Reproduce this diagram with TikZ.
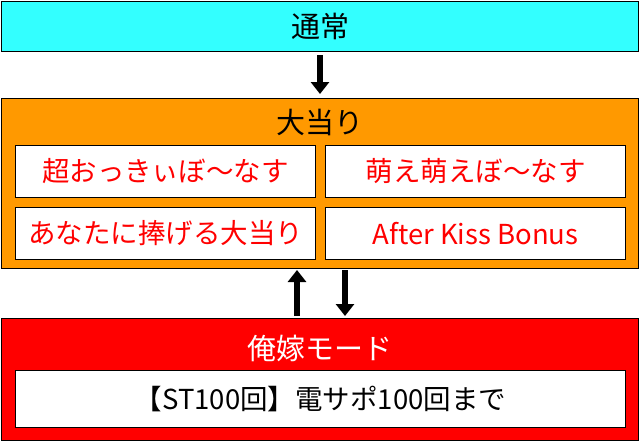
\documentclass[tikz,border=0pt]{standalone}
\usepackage{fontspec}
\newfontfamily\jpfont{Noto Sans CJK JP}
\usetikzlibrary{positioning, arrows.meta}
\tikzset{
	x=1pt, y=-1pt,
	panel/.style= {
		rectangle, draw=black, line width=1.2pt, anchor=north west,
		inner sep=0, minimum width=637pt
	},
	item/.style= {
		rectangle, draw=black, fill=white, line width=1pt, anchor=north west,
		inner sep=0, minimum width=300pt, minimum height=52pt,
		text=red, font=\jpfont\fontsize{27.5}{30}\selectfont
	},
	title/.style= {font=\jpfont\fontsize{29}{32}\selectfont},
	flow/.style= {line width=6pt, -{Triangle[length=12pt, width=18pt]}},
}
\definecolor{cyanbox}{RGB}{51,255,255}
\definecolor{orangebox}{RGB}{255,153,0}
\definecolor{redbox}{RGB}{255,0,0}

\begin{document}
\begin{tikzpicture}
		\useasboundingbox (0,0) rectangle (640,442);
		\fill[white] (0,0) rectangle (640,442);
		
		\node (normal) [panel, fill=cyanbox, minimum height=50pt] at (1,1) {};
		\node [title] at (normal.center) {通常};
		
		\node (bigwin) [panel, fill=orangebox, minimum height=170pt] at (1,98) {};
		\node [title] at (320,122) {大当り};
		\node (super) [item] at (15,145) {超おっきぃぼ〜なす};
		\node (moe) [item] at (325,145) {萌え萌えぼ〜なす};
		\node (gift) [item] at (15,207) {あなたに捧げる大当り};
		\node (kiss) [item] at (325,207) {After Kiss Bonus};
		
		\node (mode) [panel, fill=redbox, minimum height=122pt] at (1,318) {};
		\node [title, text=white] at (320,348) {俺嫁モード};
		\node (st) [item, minimum width=610pt, minimum height=57pt, text=black] at (15,370) {【ST100回】電サポ100回まで};
		
		\coordinate (downA) at (320,55);
		\coordinate (downB) at (320,94);
		\coordinate (upA) at (297,316);
		\coordinate (upB) at (297,270);
		\coordinate (dnA) at (345,270);
		\coordinate (dnB) at (345,316);
		\draw[flow] (downA) to (downB);
		\draw[flow] (upA) to (upB);
		\draw[flow] (dnA) to (dnB);
\end{tikzpicture}
\end{document}
